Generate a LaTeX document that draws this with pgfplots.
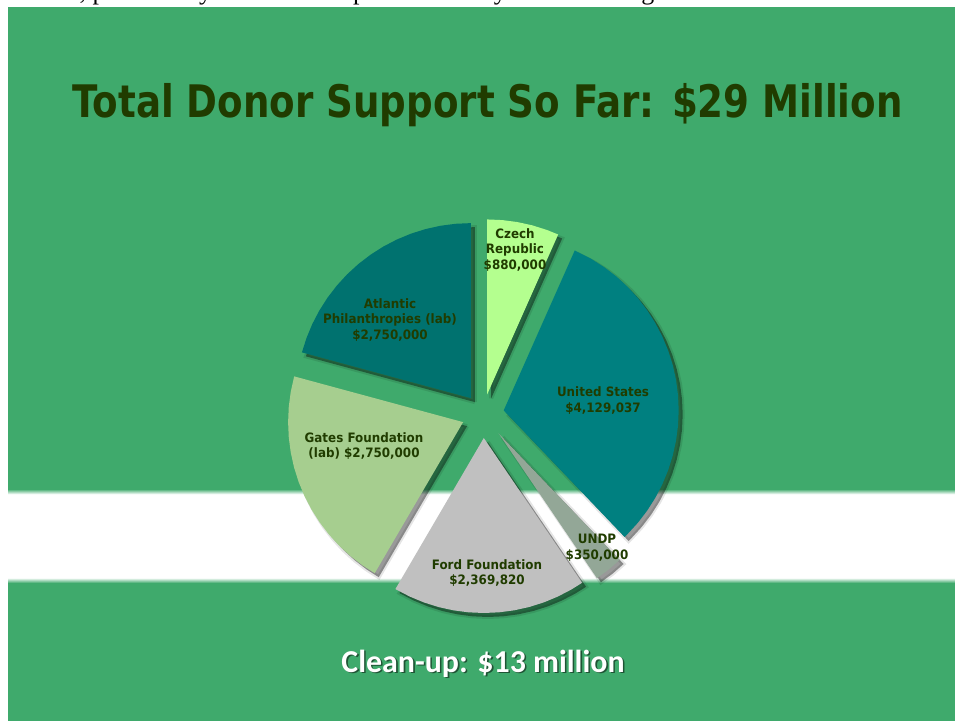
\documentclass[border=0pt]{standalone}
\usepackage{fontspec}
\usepackage{pgfplots}
\pgfplotsset{compat=1.18}
\usepackage{pgfplotstable}
\newfontfamily\titlefont[FakeStretch=0.83]{DejaVu Sans}
\newfontfamily\labfont[FakeStretch=0.92]{DejaVu Sans}
\newfontfamily\cleanfont{Carlito}
\newfontfamily\serifline{Liberation Serif}
\definecolor{bgG}{RGB}{63,170,108}
\definecolor{titleC}{RGB}{32,60,0}
\definecolor{czechC}{HTML}{B4FF8F}
\definecolor{usC}{HTML}{008080}
\definecolor{undpC}{HTML}{93A797}
\definecolor{fordC}{HTML}{C0C0C0}
\definecolor{gatesC}{HTML}{A6CE8F}
\definecolor{atlC}{HTML}{00726F}
\pgfplotsset{shad/.style={data cs=polar, fill=black, fill opacity=0.4, draw=black, draw opacity=0.1, line width=4bp},
  slice/.style={data cs=polar, fill=#1, draw=none}}

% slice outlines: angle (deg), radius (px); angles from the donor shares
% Czech 880,000; US 4,129,037; UNDP 350,000; Ford 2,369,820; Gates 2,750,000; Atlantic 2,750,000
\pgfplotstableread{
a r
90 0
90 175
85 175
80 175
75 175
70 175
66.05 175
66.05 0
}\czech
\pgfplotstableread{
a r
66.05 0
66.05 175
60 175
55 175
50 175
45 175
40 175
35 175
30 175
25 175
20 175
15 175
10 175
5 175
0 175
-5 175
-10 175
-15 175
-20 175
-25 175
-30 175
-35 175
-40 175
-45 175
-46.31 175
-46.31 0
}\us
\pgfplotstableread{
a r
-46.31 0
-46.31 175
-51 175
-55.84 175
-55.84 0
}\undp
\pgfplotstableread{
a r
-55.84 0
-55.84 175
-60 175
-65 175
-70 175
-75 175
-80 175
-85 175
-90 175
-95 175
-100 175
-105 175
-110 175
-115 175
-120 175
-120.33 175
-120.33 0
}\ford
\pgfplotstableread{
a r
-120.33 0
-120.33 175
-125 175
-130 175
-135 175
-140 175
-145 175
-150 175
-155 175
-160 175
-165 175
-170 175
-175 175
-180 175
-185 175
-190 175
-195 175
-195.16 175
-195.16 0
}\gates
\pgfplotstableread{
a r
-195.16 0
-195.16 175
-200 175
-205 175
-210 175
-215 175
-220 175
-225 175
-230 175
-235 175
-240 175
-245 175
-250 175
-255 175
-260 175
-265 175
-270 175
-270 0
}\atl

\begin{document}
\begin{tikzpicture}
\useasboundingbox (0,0) rectangle (955bp,-721bp);
\fill[white] (0,0) rectangle (955bp,-721bp);
\fill[bgG] (8bp,-7bp) rectangle (955bp,-721bp);
\fill[white] (8bp,-494bp) rectangle (955bp,-578bp);
\shade[top color=bgG, bottom color=white] (8bp,-489bp) rectangle (955bp,-494.2bp);
\shade[top color=white, bottom color=bgG] (8bp,-577.8bp) rectangle (955bp,-583bp);

\begin{scope}
\clip (0,0) rectangle (955bp,-7bp);
\node[anchor=base west, inner sep=0pt, font=\serifline\fontsize{26}{30}\selectfont] at (19bp,0.5bp)
  {tested, particularly in the whole process and by the national government of the};
\end{scope}

\begin{axis}[at={(0bp,-721bp)}, anchor=south west, x=1bp, y=1bp,
  xmin=-483, xmax=472, ymin=-307, ymax=414, hide axis, clip=false]
\addplot[shad, xshift=8.14bp, yshift=15.57bp] table[x=a,y=r] {\czech};
\addplot[shad, xshift=24.69bp, yshift=-0.4bp] table[x=a,y=r] {\us};
\addplot[shad, xshift=19.71bp, yshift=-23.45bp] table[x=a,y=r] {\undp};
\addplot[shad, xshift=4.8bp, yshift=-27.99bp] table[x=a,y=r] {\ford};
\addplot[shad, xshift=-15.9bp, yshift=-12.14bp] table[x=a,y=r] {\gates};
\addplot[shad, xshift=-8.15bp, yshift=11.89bp] table[x=a,y=r] {\atl};

\addplot[slice=czechC, xshift=4.14bp, yshift=19.57bp] table[x=a,y=r] {\czech};
\addplot[slice=usC, xshift=20.69bp, yshift=3.6bp] table[x=a,y=r] {\us};
\addplot[slice=undpC, xshift=15.71bp, yshift=-19.45bp] table[x=a,y=r] {\undp};
\addplot[slice=fordC, xshift=0.8bp, yshift=-23.99bp] table[x=a,y=r] {\ford};
\addplot[slice=gatesC, xshift=-19.9bp, yshift=-8.14bp] table[x=a,y=r] {\gates};
\addplot[slice=atlC, xshift=-12.15bp, yshift=15.89bp] table[x=a,y=r] {\atl};
\end{axis}

\tikzset{lab/.style={align=center, inner sep=0pt, text=titleC, font=\labfont\bfseries\fontsize{13}{16}\selectfont}}
\node[lab] at (515bp,-250bp) {Czech\\Republic\\\$880,000};
\node[lab] at (390bp,-320bp) {Atlantic\\Philanthropies (lab)\\\$2,750,000};
\node[lab] at (603bp,-400.5bp) {United States\\\$4,129,037};
\node[lab] at (364bp,-446bp) {Gates Foundation\\(lab) \$2,750,000};
\node[lab] at (487bp,-573bp) {Ford Foundation\\\$2,369,820};
\node[lab] at (597bp,-548bp) {UNDP\\\$350,000};

\node[anchor=base, inner sep=0pt, text=titleC, font=\titlefont\bfseries\fontsize{45}{54}\selectfont]
  at (487.5bp,-117bp) {Total Donor Support So Far: \$29 Million};

\node[anchor=base, inner sep=0pt, text=black, opacity=0.5, font=\cleanfont\bfseries\fontsize{32}{38}\selectfont]
  at (484.6bp,-673.6bp) {Clean-up: \$13 million};
\node[anchor=base, inner sep=0pt, text=white, font=\cleanfont\bfseries\fontsize{32}{38}\selectfont]
  at (483bp,-672bp) {Clean-up: \$13 million};
\end{tikzpicture}
\end{document}
